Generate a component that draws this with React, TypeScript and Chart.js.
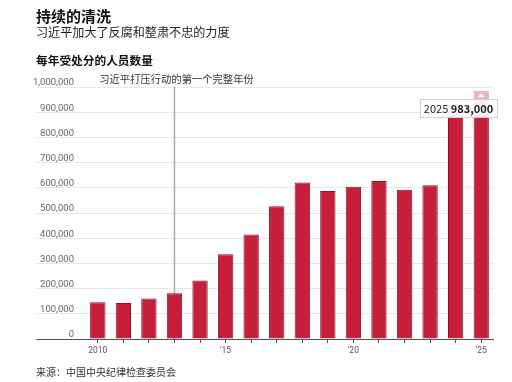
import React, { useEffect, useRef } from "react";
import { Chart, registerables } from "chart.js";

Chart.register(...registerables);

// ---- data ----
const years = [2010, 2011, 2012, 2013, 2014, 2015, 2016, 2017, 2018, 2019, 2020, 2021, 2022, 2023, 2024, 2025];
const disciplined = [146000, 143000, 161000, 182000, 232000, 336000, 415000, 527000, 621000, 587000, 604000, 627000, 592000, 610000, 889000, 983000];
const xTickLabels: Record<number, string> = { 2010: "2010", 2015: "'15", 2020: "'20", 2025: "'25" };
const yMax = 1000000;
const yStep = 100000;

const titleText = "持续的清洗";
const subtitleText = "习近平加大了反腐和整肃不忠的力度";
const headingText = "每年受处分的人员数量";
const sourceText = "来源：中国中央纪律检查委员会";
const annotationYear = 2013;
const annotationText = "习近平打压行动的第一个完整年份";
const highlightYear = 2025;

const CJK = '"Noto Sans CJK SC", "Noto Sans", sans-serif';
const NUM = 'Roboto, "Noto Sans", sans-serif';

const overlayPlugin = {
  id: "overlayPlugin",
  beforeDatasetsDraw(chart: any) {
    const { ctx, chartArea, scales } = chart;
    const x = scales.x;
    const idx = years.indexOf(annotationYear);
    const px = Math.round(x.getPixelForValue(idx)) + 0.5;
    ctx.save();
    ctx.strokeStyle = "#a8a8a8";
    ctx.lineWidth = 1.5;
    ctx.beginPath();
    ctx.moveTo(px, chartArea.top);
    ctx.lineTo(px, chartArea.bottom);
    ctx.stroke();
    ctx.font = `10.3px ${CJK}`;
    ctx.fillStyle = "#333";
    ctx.textAlign = "center";
    ctx.textBaseline = "middle";
    ctx.fillText(annotationText, px + 2, chartArea.top - 8);
    ctx.restore();
  },
  afterDatasetsDraw(chart: any) {
    const { ctx, scales } = chart;
    const x = scales.x;
    const y = scales.y;
    const idx = years.indexOf(highlightYear);
    const value = disciplined[idx];
    const cx = x.getPixelForValue(idx);
    const top = y.getPixelForValue(value);
    const boxTop = top + 8;
    const boxH = 18;
    ctx.save();
    ctx.fillStyle = "rgba(255,255,255,0.65)";
    ctx.fillRect(cx - 8, top, 16, boxTop - top);
    ctx.fillStyle = "#fff";
    ctx.beginPath();
    ctx.moveTo(cx, top + 2);
    ctx.lineTo(cx - 4, top + 6);
    ctx.lineTo(cx + 4, top + 6);
    ctx.closePath();
    ctx.fill();
    const yearStr = String(highlightYear) + " ";
    const valStr = value.toLocaleString("en-US");
    ctx.font = `11px ${CJK}`;
    const w1 = ctx.measureText(yearStr).width;
    ctx.font = `bold 11px ${CJK}`;
    const w2 = ctx.measureText(valStr).width;
    const boxW = w1 + w2 + 8;
    const boxRight = cx + 16;
    const boxLeft = boxRight - boxW;
    ctx.fillStyle = "rgba(255,255,255,0.93)";
    ctx.fillRect(boxLeft, boxTop, boxW, boxH);
    ctx.strokeStyle = "#d0d0d0";
    ctx.lineWidth = 1;
    ctx.strokeRect(Math.round(boxLeft) + 0.5, Math.round(boxTop) + 0.5, Math.round(boxW), boxH);
    ctx.fillStyle = "#222";
    ctx.textBaseline = "middle";
    ctx.textAlign = "left";
    ctx.font = `11px ${CJK}`;
    ctx.fillText(yearStr, boxLeft + 4, boxTop + boxH / 2 + 0.5);
    ctx.font = `bold 11px ${CJK}`;
    ctx.fillText(valStr, boxLeft + 4 + w1, boxTop + boxH / 2 + 0.5);
    ctx.restore();
  },
};

export default function App() {
  const canvasRef = useRef<HTMLCanvasElement | null>(null);

  useEffect(() => {
    if (!canvasRef.current) return;
    const chart = new Chart(canvasRef.current, {
      type: "bar",
      data: {
        labels: years.map(String),
        datasets: [
          {
            data: disciplined,
            backgroundColor: "#c51f3a",
            borderColor: "#951428",
            borderWidth: 1,
            barPercentage: 0.6,
            categoryPercentage: 1,
          },
        ],
      },
      options: {
        animation: false,
        responsive: false,
        maintainAspectRatio: false,
        layout: { padding: { top: 87, left: 0, right: 18, bottom: 0 } },
        plugins: {
          legend: { display: false },
          tooltip: { enabled: false },
          title: { display: false },
        },
        scales: {
          x: {
            offset: true,
            border: { display: false },
            grid: {
              offset: false,
              drawOnChartArea: false,
              drawTicks: true,
              tickLength: 4,
              color: "#555",
            },
            ticks: {
              autoSkip: false,
              maxRotation: 0,
              padding: 3,
              color: "#555",
              font: { family: NUM, size: 8.5 },
              callback: (_v: any, i: number) => xTickLabels[years[i]] ?? "",
            },
            afterFit: (s: any) => {
              s.height = 43;
            },
          },
          y: {
            min: 0,
            max: yMax,
            border: { display: false },
            grid: {
              drawTicks: true,
              tickLength: 49,
              color: (c: any) => (c.tick && c.tick.value === 0 ? "#555" : "#e8e8e8"),
              lineWidth: 1,
            },
            ticks: {
              stepSize: yStep,
              padding: -38,
              labelOffset: -4,
              color: "#666",
              font: { family: NUM, size: 9.5 },
              callback: (v: any) => Number(v).toLocaleString("en-US"),
            },
            afterFit: (s: any) => {
              s.width = 85;
            },
          },
        },
      },
      plugins: [overlayPlugin],
    });
    return () => chart.destroy();
  }, []);

  const base: React.CSSProperties = {
    position: "absolute",
    left: 36,
    margin: 0,
    fontFamily: CJK,
    lineHeight: 1,
    whiteSpace: "nowrap",
  };

  return (
    <div style={{ position: "fixed", left: 0, top: 0, width: 512, height: 382, background: "#fff", overflow: "hidden" }}>
      <canvas ref={canvasRef} width={512} height={382} style={{ position: "absolute", left: 0, top: 0, width: 512, height: 382 }} />
      <div style={{ ...base, top: 8, fontSize: 15, fontWeight: 700, color: "#111" }}>{titleText}</div>
      <div style={{ ...base, top: 26, fontSize: 12.1, color: "#222" }}>{subtitleText}</div>
      <div style={{ ...base, top: 53.5, fontSize: 11.7, fontWeight: 700, color: "#111" }}>{headingText}</div>
      <div style={{ ...base, top: 367, fontSize: 10, color: "#333" }}>{sourceText}</div>
    </div>
  );
}
